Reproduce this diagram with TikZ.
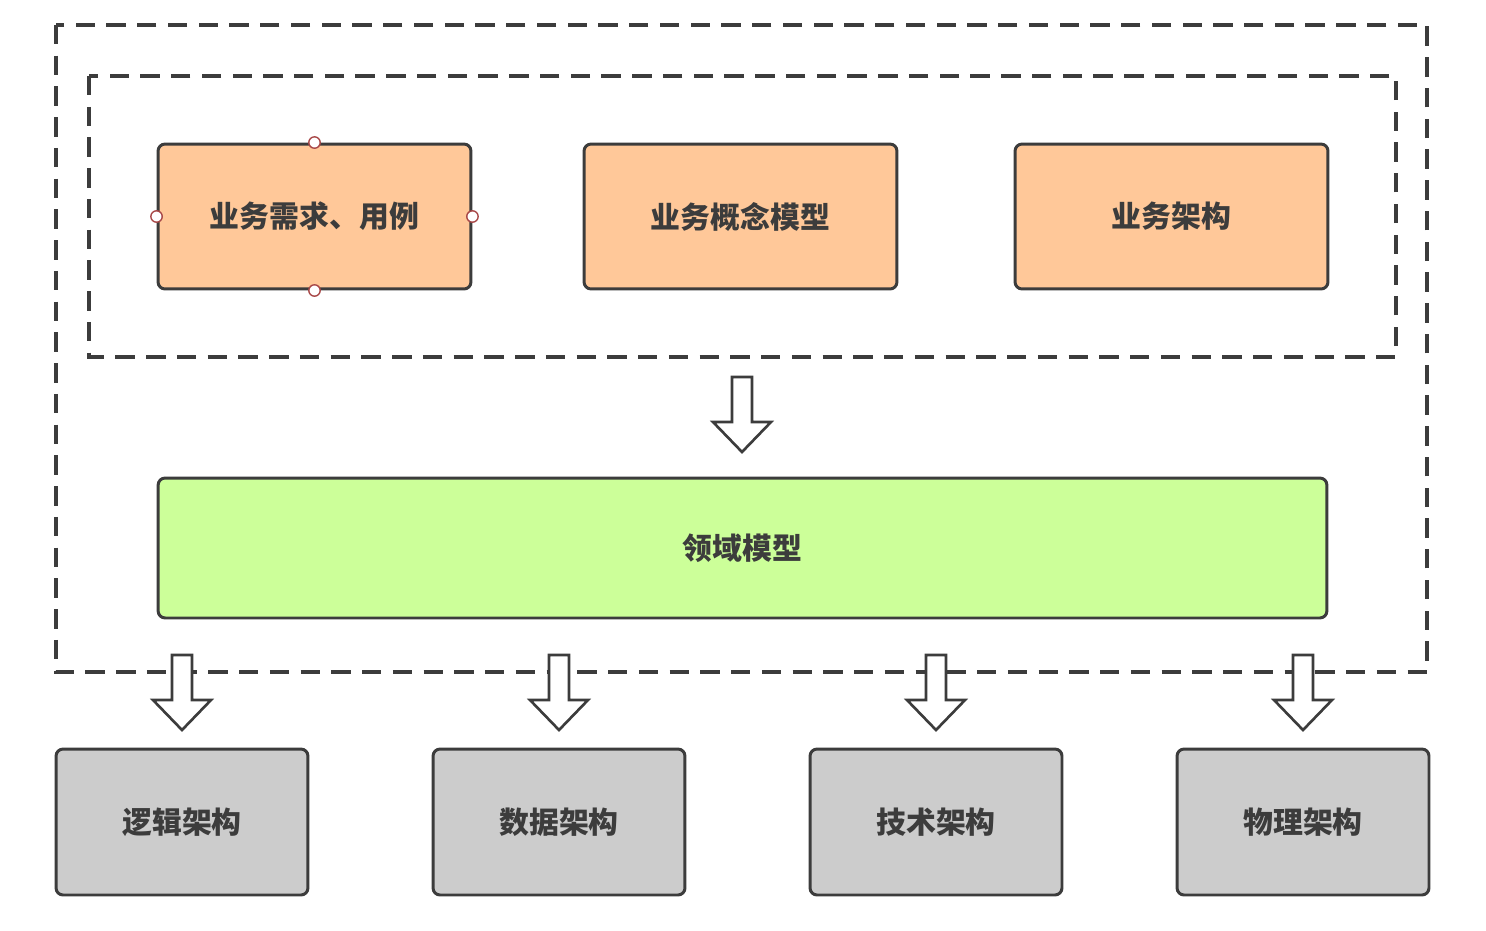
\documentclass[tikz,border=0pt]{standalone}
\usepackage{fontspec}
\newfontfamily\cjk{Noto Sans CJK SC}
\usepackage{tikz}
\usetikzlibrary{arrows.meta,positioning}

\definecolor{boxline}{HTML}{3C3C3C}
\definecolor{bizfill}{HTML}{FFC899}
\definecolor{domfill}{HTML}{CCFF99}
\definecolor{archfill}{HTML}{CCCCCC}
\definecolor{handle}{HTML}{A84848}

\begin{document}
\begin{tikzpicture}[
    x=0.02cm, y=-0.02cm,
    lbox/.style={draw=boxline, line width=1.7pt, rounded corners=4pt, inner sep=0pt,
                 font=\cjk\bfseries\fontsize{17}{20}\selectfont, text=boxline, align=center},
    bizbox/.style={lbox, fill=bizfill, minimum width=6.26cm, minimum height=2.9cm},
    archbox/.style={lbox, fill=archfill, minimum width=5.04cm, minimum height=2.92cm},
    frame/.style={draw=boxline, line width=2pt, dash pattern=on 11pt off 6.5pt},
    hnd/.style={circle, draw=handle, fill=white, line width=0.8pt, inner sep=0pt, minimum size=6.5pt},
    pics/downarrow/.style={code={
        \draw[boxline, line width=1.5pt, fill=white, line join=miter]
          (-10,0) -- (10,0) -- (10,45) -- (29,45) -- (0,75) -- (-29,45) -- (-10,45) -- cycle;
    }},
]
\useasboundingbox (0,0) rectangle (1486,930);

% dashed frames
\draw[frame] (56,25) rectangle (1427,672);
\draw[frame] (89,76) rectangle (1396,357);

% business layer
\node[bizbox] (req) at (314.5,216.5) {业务需求、用例};
\node[bizbox] (concept) at (740.5,216.5) {业务概念模型};
\node[bizbox] (bizarch) at (1171.5,216.5) {业务架构};

\foreach \a in {north,south,east,west}
  \node[hnd] at (req.\a) {};

% domain model
\node[lbox, fill=domfill, minimum width=23.38cm, minimum height=2.8cm] (domain) at (742.5,548) {领域模型};

\pic at (742,377) {downarrow};

% architecture layer
\node[archbox] (logic) at (182,822) {逻辑架构};
\node[archbox] (data) at (559,822) {数据架构};
\node[archbox] (tech) at (936,822) {技术架构};
\node[archbox] (phys) at (1303,822) {物理架构};

\foreach \n in {logic,data,tech,phys}
  \pic at (\n.center |- 0,655) {downarrow};

\end{tikzpicture}
\end{document}
